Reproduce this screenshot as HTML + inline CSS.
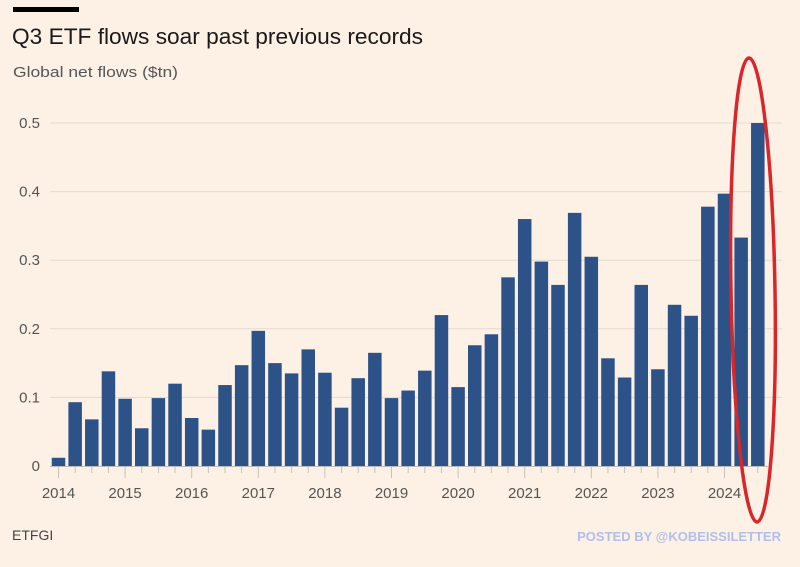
<!DOCTYPE html>
<html><head><meta charset="utf-8">
<style>
body{margin:0;background:#fdf1e6;}
svg{display:block;font-family:"Liberation Sans",sans-serif;}
</style></head>
<body>
<svg id="chart" width="800" height="567" viewBox="0 0 800 567">
<rect x="0" y="0" width="800" height="567" fill="#fdf1e6"/>
<rect x="13" y="7" width="66" height="5" fill="#000"/>
<text x="12" y="44" font-size="22" fill="#1a1a1a" textLength="411" lengthAdjust="spacingAndGlyphs">Q3 ETF flows soar past previous records</text>
<text x="13" y="77" font-size="15" fill="#555" textLength="165" lengthAdjust="spacingAndGlyphs">Global net flows ($tn)</text>
<g id="grid"></g>
<g id="bars"></g>
<g id="xaxis"></g>
<text x="12" y="540" font-size="14" fill="#444">ETFGI</text>
<text x="781" y="541" font-size="13" font-weight="bold" fill="#b3bfe8" text-anchor="end">POSTED BY @KOBEISSILETTER</text>
<ellipse cx="753" cy="290" rx="22" ry="232" fill="none" stroke="#d8262b" stroke-width="3.5" transform="rotate(-1 753 290)"/>
</svg>
<script>
const years = ["2014","2015","2016","2017","2018","2019","2020","2021","2022","2023","2024"];
const yTicks = [0,0.1,0.2,0.3,0.4,0.5];
const yTickLabels = ["0","0.1","0.2","0.3","0.4","0.5"];
const flows = [0.012,0.093,0.068,0.138, 0.098,0.055,0.099,0.12, 0.07,0.053,0.118,0.147, 0.197,0.15,0.135,0.17, 0.136,0.085,0.128,0.165, 0.099,0.11,0.139,0.22, 0.115,0.176,0.192,0.275, 0.36,0.298,0.264,0.369, 0.305,0.157,0.129,0.264, 0.141,0.235,0.219,0.378, 0.397,0.333,0.50];

const NS="http://www.w3.org/2000/svg";
const x0=58.5, pitch=16.65, bw=13.5;
const y=v=>466-v*686;
const xq=i=>x0+i*pitch;
function mk(t,a,p){const e=document.createElementNS(NS,t);for(const k in a)e.setAttribute(k,a[k]);p.appendChild(e);return e;}
const grid=document.getElementById('grid');
yTicks.forEach((v,i)=>{
  if(v>0){const l=mk('line',{x1:50,x2:782,y1:y(v),y2:y(v),stroke:'#e3d9cf','stroke-width':1},grid);
  
  }
  const t=mk('text',{x:40,y:y(v)+5,'font-size':15,fill:'#555','text-anchor':'end'},grid);
  t.textContent=yTickLabels[i];
  
  
});
const bars=document.getElementById('bars');
flows.forEach((v,i)=>{
  const r=mk('rect',{x:xq(i)-bw/2,y:y(v),width:bw,height:466-y(v),fill:'#2c5288'},bars);
  
  
});
const xa=document.getElementById('xaxis');
const base=mk('line',{x1:50,x2:768,y1:466.5,y2:466.5,stroke:'#bbb','stroke-width':1},xa);


flows.forEach((v,i)=>{
  const tk=mk('line',{x1:xq(i),x2:xq(i),y1:467,y2:i%4==0?478:473,stroke:'#c8c0b8','stroke-width':1},xa);
  
  
});
years.forEach((yr,i)=>{
  const t=mk('text',{x:xq(i*4),y:498,'font-size':15,fill:'#555','text-anchor':'middle'},xa);
  t.textContent=yr;
  
  
});
</script>
</body></html>
